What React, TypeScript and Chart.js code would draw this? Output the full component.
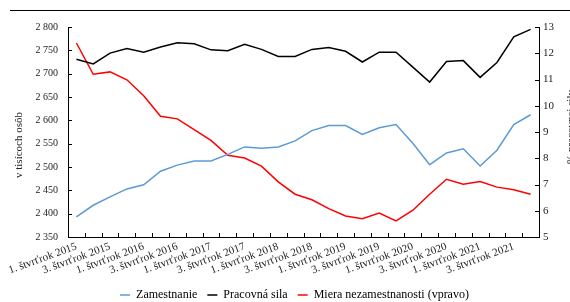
import React, { useEffect, useRef } from "react";
import { Chart, registerables } from "chart.js";

Chart.register(...registerables);

const categories: string[] = [
  "1. štvrťrok 2015", "2. štvrťrok 2015", "3. štvrťrok 2015", "4. štvrťrok 2015",
  "1. štvrťrok 2016", "2. štvrťrok 2016", "3. štvrťrok 2016", "4. štvrťrok 2016",
  "1. štvrťrok 2017", "2. štvrťrok 2017", "3. štvrťrok 2017", "4. štvrťrok 2017",
  "1. štvrťrok 2018", "2. štvrťrok 2018", "3. štvrťrok 2018", "4. štvrťrok 2018",
  "1. štvrťrok 2019", "2. štvrťrok 2019", "3. štvrťrok 2019", "4. štvrťrok 2019",
  "1. štvrťrok 2020", "2. štvrťrok 2020", "3. štvrťrok 2020", "4. štvrťrok 2020",
  "1. štvrťrok 2021", "2. štvrťrok 2021", "3. štvrťrok 2021", "4. štvrťrok 2021",
];

const zamestnanie: number[] = [
  2393, 2418, 2436, 2453, 2462, 2491, 2504, 2513, 2513, 2527, 2543, 2540, 2543, 2556,
  2578, 2589, 2589, 2570, 2584, 2591, 2551, 2505, 2530, 2539, 2502, 2536, 2591, 2612,
];

const pracovnaSila: number[] = [
  2731, 2721, 2744, 2754, 2746, 2757, 2766, 2764, 2751, 2749, 2763, 2752, 2737, 2737,
  2752, 2756, 2748, 2725, 2746, 2746, 2714, 2682, 2726, 2728, 2692, 2724, 2779, 2795,
];

const mieraNezamestnanosti: number[] = [
  12.39, 11.2, 11.29, 10.99, 10.38, 9.6, 9.5, 9.09, 8.68, 8.11, 8.01, 7.7, 7.1, 6.63,
  6.42, 6.08, 5.8, 5.7, 5.91, 5.61, 6.02, 6.63, 7.2, 7.01, 7.11, 6.9, 6.8, 6.63,
];

const seriesNames: string[] = ["Zamestnanie", "Pracovná sila", "Miera nezamestnanosti (vpravo)"];
const leftTitle = "v tisícoch osôb";
const rightTitle = "% pracovnej sily";

const FONT = "'Liberation Serif', 'Times New Roman', serif";

const customPlugin = {
  id: "customDecor",
  afterDraw(chart: any) {
    const ctx = chart.ctx as CanvasRenderingContext2D;
    const x = chart.scales.x;
    const y = chart.scales.y;
    const y1 = chart.scales.y1;
    ctx.save();
    ctx.strokeStyle = "#000";
    ctx.lineWidth = 1;
    ctx.beginPath();
    const step = x.getPixelForValue(1) - x.getPixelForValue(0);
    for (let i = 1; i < categories.length; i++) {
      const px = Math.round(x.getPixelForValue(i) - step / 2) + 0.5;
      ctx.moveTo(px, x.top);
      ctx.lineTo(px, x.top - 4);
    }
    y.ticks.forEach((_t: any, i: number) => {
      const py = Math.round(y.getPixelForTick(i)) + 0.5;
      ctx.moveTo(y.right, py);
      ctx.lineTo(y.right + 4, py);
    });
    y1.ticks.forEach((_t: any, i: number) => {
      const py = Math.round(y1.getPixelForTick(i)) + 0.5;
      ctx.moveTo(y1.left, py);
      ctx.lineTo(y1.left - 4, py);
    });
    // top rule
    ctx.moveTo(10, 10.5);
    ctx.lineTo(570, 10.5);
    ctx.stroke();

    // axis titles
    ctx.fillStyle = "#222";
    ctx.font = `11px ${FONT}`;
    ctx.textAlign = "center";
    ctx.textBaseline = "middle";
    ctx.save();
    ctx.translate(19, 145);
    ctx.rotate(-Math.PI / 2);
    ctx.fillText(leftTitle, 0, 0);
    ctx.restore();
    ctx.save();
    ctx.translate(571, 127);
    ctx.rotate(-Math.PI / 2);
    ctx.fillText(rightTitle, 0, 0);
    ctx.restore();
    ctx.restore();
  },
};

export default function App() {
  const ref = useRef<HTMLCanvasElement | null>(null);
  useEffect(() => {
    document.body.style.margin = "0";
    const canvas = ref.current;
    if (!canvas) return;
    const chart = new Chart(canvas, {
      type: "line",
      data: {
        labels: categories,
        datasets: [
          {
            label: seriesNames[0],
            data: zamestnanie,
            borderColor: "#5B9BD5",
            backgroundColor: "#5B9BD5",
            borderWidth: 1.5,
            pointRadius: 0,
            tension: 0,
            yAxisID: "y",
          },
          {
            label: seriesNames[1],
            data: pracovnaSila,
            borderColor: "#000000",
            backgroundColor: "#000000",
            borderWidth: 1.5,
            pointRadius: 0,
            tension: 0,
            yAxisID: "y",
          },
          {
            label: seriesNames[2],
            data: mieraNezamestnanosti,
            borderColor: "#FF0000",
            backgroundColor: "#FF0000",
            borderWidth: 1.5,
            pointRadius: 0,
            tension: 0,
            yAxisID: "y1",
          },
        ],
      },
      options: {
        responsive: false,
        animation: false,
        layout: { padding: { top: 27, left: 19, right: 0, bottom: -9 } },
        plugins: {
          tooltip: { enabled: false },
          legend: {
            position: "bottom",
            labels: {
              usePointStyle: true,
              pointStyle: "line",
              pointStyleWidth: 10,
              padding: 10,
              color: "#000",
              font: { family: FONT, size: 12 },
            },
          },
        },
        scales: {
          x: {
            type: "category",
            offset: true,
            grid: { display: false, drawTicks: false },
            border: { display: true, color: "#000", width: 1 },
            ticks: {
              autoSkip: false,
              minRotation: 20,
              maxRotation: 20,
              padding: 3,
              color: "#222",
              font: { family: FONT, size: 11 },
              callback: (_v: any, i: number) => (i % 2 === 0 ? categories[i] : ""),
            },
            afterFit: (s: any) => {
              s.height = 42;
            },
          },
          y: {
            position: "left",
            min: 2350,
            max: 2800,
            grid: { display: false, drawTicks: false },
            border: { display: true, color: "#000", width: 1 },
            ticks: {
              stepSize: 50,
              padding: 10,
              color: "#222",
              font: { family: FONT, size: 10 },
              callback: (v: any) => {
                const n = Number(v);
                const th = Math.floor(n / 1000);
                const rest = String(n % 1000).padStart(3, "0");
                return th > 0 ? `${th} ${rest}` : String(n);
              },
            },
            afterFit: (s: any) => {
              s.width = 49;
            },
          },
          y1: {
            position: "right",
            min: 5,
            max: 13,
            grid: { display: false, drawTicks: false },
            border: { display: true, color: "#000", width: 1 },
            ticks: {
              stepSize: 1,
              padding: 4,
              color: "#222",
              font: { family: FONT, size: 11 },
            },
            afterFit: (s: any) => {
              s.width = 31;
            },
          },
        },
      },
      plugins: [customPlugin],
    });
    return () => chart.destroy();
  }, []);
  return <canvas ref={ref} width={570} height={302} style={{ display: "block", width: 570, height: 302 }} />;
}
